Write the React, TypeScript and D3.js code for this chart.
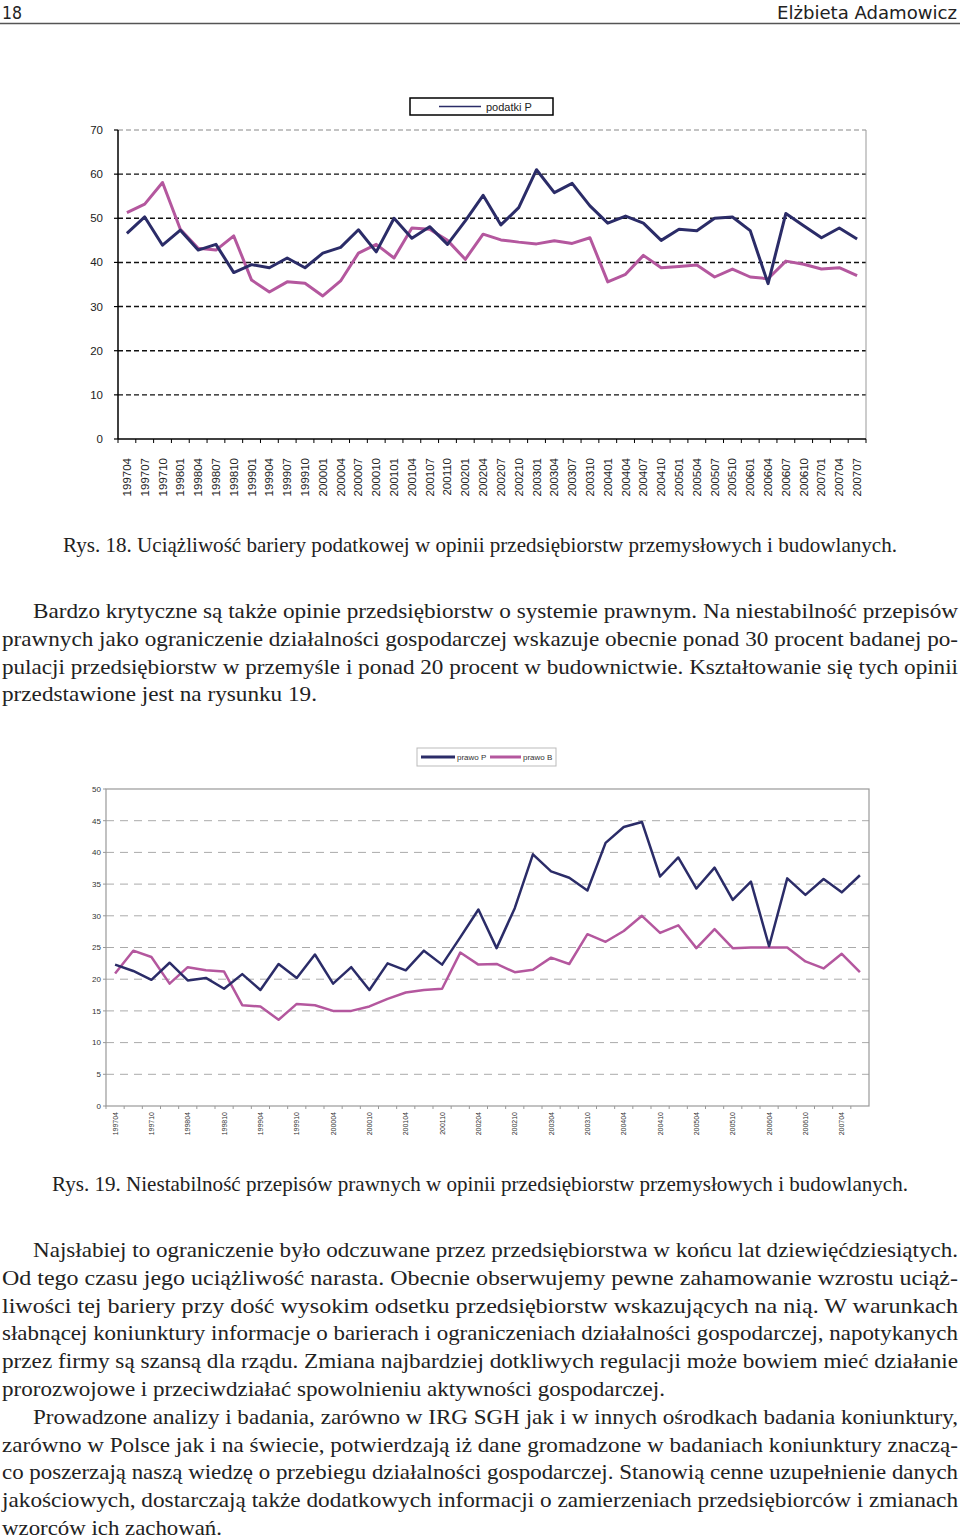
import React from "react";
import * as d3 from "d3";

// quarterly survey periods, 1997 Q2 .. 2007 Q3
const periods = [
  "199704", "199707", "199710",
  "199801", "199804", "199807", "199810",
  "199901", "199904", "199907", "199910",
  "200001", "200004", "200007", "200010",
  "200101", "200104", "200107", "200110",
  "200201", "200204", "200207", "200210",
  "200301", "200304", "200307", "200310",
  "200401", "200404", "200407", "200410",
  "200501", "200504", "200507", "200510",
  "200601", "200604", "200607", "200610",
  "200701", "200704", "200707",
];

// Rys. 18 – bariera podatkowa
const podatkiP = [
  46.6, 50.3, 43.9, 47.3, 42.8, 44.1, 37.7, 39.5, 38.8, 41.0, 38.8, 42.1, 43.4, 47.4,
  42.4, 50.0, 45.5, 48.1, 44.1, 49.4, 55.2, 48.5, 52.4, 61.0, 55.8, 57.9, 52.8, 48.9,
  50.5, 48.9, 45.0, 47.5, 47.2, 50.0, 50.3, 47.2, 35.2, 51.1, 48.3, 45.6, 47.8, 45.3,
];
const podatkiB = [
  51.3, 53.2, 58.1, 47.5, 43.2, 42.8, 46.0, 36.0, 33.3, 35.6, 35.3, 32.4, 35.8, 42.1,
  44.1, 41.0, 47.8, 47.5, 45.0, 40.7, 46.4, 45.1, 44.6, 44.2, 44.9, 44.3, 45.6, 35.6,
  37.3, 41.6, 38.8, 39.1, 39.4, 36.7, 38.5, 36.7, 36.3, 40.3, 39.6, 38.5, 38.8, 37.0,
];
const ticks1 = [0, 10, 20, 30, 40, 50, 60, 70];

// Rys. 19 – niestabilność przepisów prawnych
const prawoP = [
  22.3, 21.3, 19.9, 22.6, 19.8, 20.2, 18.5, 20.8, 18.3, 22.4, 20.2, 23.9, 19.3, 21.9,
  18.3, 22.5, 21.4, 24.5, 22.3, 26.6, 31.0, 24.9, 31.2, 39.7, 37.0, 36.0, 34.0, 41.5,
  44.0, 44.8, 36.2, 39.2, 34.3, 37.6, 32.5, 35.4, 25.2, 35.9, 33.3, 35.8, 33.7, 36.4,
];
const prawoB = [
  20.9, 24.5, 23.5, 19.3, 21.9, 21.4, 21.2, 15.9, 15.7, 13.6, 16.1, 15.9, 15.0, 15.0,
  15.7, 16.9, 17.9, 18.3, 18.5, 24.2, 22.3, 22.4, 21.1, 21.5, 23.4, 22.4, 27.1, 25.9,
  27.6, 30.0, 27.3, 28.5, 24.9, 27.9, 24.9, 25.0, 25.0, 25.0, 22.8, 21.7, 24.0, 21.1,
];
const ticks2 = [0, 5, 10, 15, 20, 25, 30, 35, 40, 45, 50];

const caption18 = "Rys. 18. Uciążliwość bariery podatkowej w opinii przedsiębiorstw przemysłowych i budowlanych.";
const caption19 = "Rys. 19. Niestabilność przepisów prawnych w opinii przedsiębiorstw przemysłowych i budowlanych.";

const para1 = [
  "Bardzo krytyczne są także opinie przedsiębiorstw o systemie prawnym. Na niestabilność przepisów",
  "prawnych jako ograniczenie działalności gospodarczej wskazuje obecnie ponad 30 procent badanej po-",
  "pulacji przedsiębiorstw w przemyśle i ponad 20 procent w budownictwie. Kształtowanie się tych opinii",
  "przedstawione jest na rysunku 19.",
];
const para2 = [
  "Najsłabiej to ograniczenie było odczuwane przez przedsiębiorstwa w końcu lat dziewięćdziesiątych.",
  "Od tego czasu jego uciążliwość narasta. Obecnie obserwujemy pewne zahamowanie wzrostu uciąż-",
  "liwości tej bariery przy dość wysokim odsetku przedsiębiorstw wskazujących na nią. W warunkach",
  "słabnącej koniunktury informacje o barierach i ograniczeniach działalności gospodarczej, napotykanych",
  "przez firmy są szansą dla rządu. Zmiana najbardziej dotkliwych regulacji może bowiem mieć działanie",
  "prorozwojowe i przeciwdziałać spowolnieniu aktywności gospodarczej.",
  "Prowadzone analizy i badania, zarówno w IRG SGH jak i w innych ośrodkach badania koniunktury,",
  "zarówno w Polsce jak i na świecie, potwierdzają iż dane gromadzone w badaniach koniunktury znaczą-",
  "co poszerzają naszą wiedzę o przebiegu działalności gospodarczej. Stanowią cenne uzupełnienie danych",
  "jakościowych, dostarczają także dodatkowych informacji o zamierzeniach przedsiębiorców i zmianach",
  "wzorców ich zachowań.",
];

const NAVY = "#2b2c68";
const PINK = "#b4579e";
const SANS = "'Liberation Sans', Arial, sans-serif";
const SERIF = "'Liberation Serif', 'Times New Roman', serif";

// line layout: [x start, x end] of each printed line (last lines are not justified)
const para1Layout = [[33, 958], [2, 958], [2, 958], [2, 317]];
const para2Layout = [
  [33, 958], [2, 958], [2, 958], [2, 958], [2, 958], [2, 665],
  [33, 958], [2, 958], [2, 958], [2, 958], [2, 222],
];

function Paragraph({ lines, layout, top }: { lines: string[]; layout: number[][]; top: number }) {
  return (
    <g fontFamily={SERIF} fontSize={21} fill="#222">
      {lines.map((t, i) => (
        <text key={i} x={layout[i][0]} y={top + i * 27.8}
          textLength={layout[i][1] - layout[i][0]} lengthAdjust="spacingAndGlyphs">{t}</text>
      ))}
    </g>
  );
}

function Chart18() {
  const x = d3.scaleBand<string>().domain(periods).range([118, 866]);
  const y = d3.scaleLinear().domain([0, 70]).range([439, 130]);
  const cx = (i: number) => (x(periods[i]) as number) + x.bandwidth() / 2;
  const line = d3.line<number>().x((_, i) => cx(i)).y(d => y(d));
  const x0 = x.range()[0], x1 = x.range()[1];
  return (
    <g>
      {ticks1.filter(t => t > 0).map(t => (
        <line key={t} x1={x0} x2={x1} y1={y(t)} y2={y(t)}
          stroke={t === 70 ? "#888" : "#111"} strokeWidth={t === 70 ? 1 : 1.4} strokeDasharray="5,3" />
      ))}
      <line x1={x1} x2={x1} y1={y(70)} y2={y(0)} stroke="#999" strokeWidth={1} />
      <line x1={x0} x2={x0} y1={y(70)} y2={y(0)} stroke="#000" strokeWidth={1.5} />
      <line x1={x0} x2={x1} y1={y(0)} y2={y(0)} stroke="#000" strokeWidth={1.5} />
      {ticks1.map(t => (
        <g key={t}>
          <line x1={x0 - 4} x2={x0} y1={y(t)} y2={y(t)} stroke="#000" strokeWidth={1.2} />
          <text x={103} y={y(t)} dy="0.35em" textAnchor="end" fontFamily={SANS} fontSize={11.5} fill="#222">{t}</text>
        </g>
      ))}
      {periods.map(p => (
        <line key={"tk" + p} x1={x(p)!} x2={x(p)!} y1={y(0)} y2={y(0) + 4} stroke="#000" strokeWidth={1} />
      ))}
      <line x1={x1} x2={x1} y1={y(0)} y2={y(0) + 4} stroke="#000" strokeWidth={1} />
      {periods.map((p, i) => (
        <text key={"lb" + p} transform={`translate(${cx(i) + 4},${458}) rotate(-90)`} textAnchor="end"
          fontFamily={SANS} fontSize={11.5} fill="#222">{p}</text>
      ))}
      <path d={line(podatkiB) ?? ""} fill="none" stroke={PINK} strokeWidth={3} strokeLinejoin="round" />
      <path d={line(podatkiP) ?? ""} fill="none" stroke={NAVY} strokeWidth={3} strokeLinejoin="round" />
      <rect x={410} y={98} width={143} height={17} fill="#fff" stroke="#000" strokeWidth={1.5} />
      <line x1={439} x2={481} y1={106.5} y2={106.5} stroke={NAVY} strokeWidth={1.5} />
      <text x={486} y={111} fontFamily={SANS} fontSize={11} fill="#222">podatki P</text>
    </g>
  );
}

function Chart19() {
  const x = d3.scaleBand<string>().domain(periods).range([106, 869]);
  const y = d3.scaleLinear().domain([0, 50]).range([1106, 789]);
  const cx = (i: number) => (x(periods[i]) as number) + x.bandwidth() / 2;
  const line = d3.line<number>().x((_, i) => cx(i)).y(d => y(d));
  const x0 = x.range()[0], x1 = x.range()[1];
  return (
    <g>
      {ticks2.filter(t => t > 0 && t < 50).map(t => (
        <line key={t} x1={x0} x2={x1} y1={y(t)} y2={y(t)} stroke="#aaa" strokeWidth={1} strokeDasharray="8,6" />
      ))}
      <rect x={x0} y={y(50)} width={x1 - x0} height={y(0) - y(50)} fill="none" stroke="#999" strokeWidth={1.2} />
      {ticks2.map(t => (
        <g key={t}>
          <line x1={x0 - 3} x2={x0} y1={y(t)} y2={y(t)} stroke="#999" strokeWidth={1} />
          <text x={101} y={y(t)} dy="0.35em" textAnchor="end" fontFamily={SANS} fontSize={8} fill="#333">{t}</text>
        </g>
      ))}
      {periods.map(p => (
        <line key={"tk" + p} x1={x(p)!} x2={x(p)!} y1={y(0)} y2={y(0) + 3} stroke="#999" strokeWidth={1} />
      ))}
      {periods.map((p, i) => i % 2 === 0 ? (
        <text key={"lb" + p} transform={`translate(${cx(i) + 2.5},${1112}) rotate(-90)`} textAnchor="end"
          fontFamily={SANS} fontSize={7} fill="#333">{p}</text>
      ) : null)}
      <path d={line(prawoB) ?? ""} fill="none" stroke={PINK} strokeWidth={2.5} strokeLinejoin="round" />
      <path d={line(prawoP) ?? ""} fill="none" stroke={NAVY} strokeWidth={2.5} strokeLinejoin="round" />
      <rect x={417} y={748} width={139} height={18} fill="#fff" stroke="#bbb" strokeWidth={1} />
      <line x1={421} x2={455} y1={757} y2={757} stroke={NAVY} strokeWidth={3} />
      <text x={457} y={760} fontFamily={SANS} fontSize={8} fill="#333">prawo P</text>
      <line x1={490} x2={521} y1={757} y2={757} stroke={PINK} strokeWidth={3} />
      <text x={523} y={760} fontFamily={SANS} fontSize={8} fill="#333">prawo B</text>
    </g>
  );
}

export default function App() {
  return (
    <svg width={960} height={1539} viewBox="0 0 960 1539"
      style={{ position: "absolute", left: 0, top: 0, background: "#fff" }}>
      <rect width={960} height={1539} fill="#fff" />
      <g fontFamily="'DejaVu Sans Condensed', 'DejaVu Sans', sans-serif" fontSize={18} fill="#222">
        <text x={2} y={19} textLength={20} lengthAdjust="spacingAndGlyphs">18</text>
        <text x={777} y={19} textLength={180} lengthAdjust="spacingAndGlyphs">Elżbieta Adamowicz</text>
      </g>
      <line x1={0} x2={960} y1={23.5} y2={23.5} stroke="#555" strokeWidth={1.5} />
      <Chart18 />
      <text x={63} y={552} textLength={834} lengthAdjust="spacingAndGlyphs"
        fontFamily={SERIF} fontSize={21} fill="#222">{caption18}</text>
      <Paragraph lines={para1} layout={para1Layout} top={618} />
      <Chart19 />
      <text x={52} y={1191} textLength={856} lengthAdjust="spacingAndGlyphs"
        fontFamily={SERIF} fontSize={21} fill="#222">{caption19}</text>
      <Paragraph lines={para2} layout={para2Layout} top={1257} />
    </svg>
  );
}
